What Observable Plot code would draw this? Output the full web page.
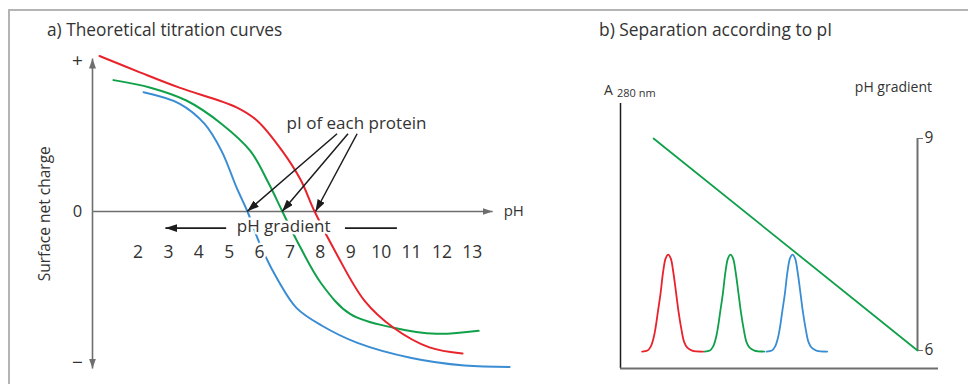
<!DOCTYPE html>
<html><head><meta charset="utf-8">
<script src="https://cdn.jsdelivr.net/npm/d3@7"></script>
<script src="https://cdn.jsdelivr.net/npm/@observablehq/plot@0.6"></script>
<style>
html,body{margin:0;padding:0;background:#fff;}
body{width:968px;height:384px;overflow:hidden;font-family:"Open Sans",sans-serif;color:#333;}
#fig{position:relative;width:968px;height:384px;overflow:hidden;}
#frame{position:absolute;left:8px;top:9px;width:980px;height:400px;border-left:2px solid #b4b4b4;border-top:2px solid #b4b4b4;}
.lbl{position:absolute;white-space:nowrap;line-height:1;}
.panel{position:absolute;top:0;}
#panelB2 g[aria-label^="y-axis"]{font-size:15.5px;}
#panelB2 g[aria-label="y-axis tick label"], #panelB2 g[aria-label="y-axis"] text{fill:#333;}
</style></head>
<body>
<div id="fig">
  <div id="frame"></div>
  <div id="panelA" class="panel" style="left:0"></div>
  <div id="panelB1" class="panel" style="left:560px"></div>
  <div id="panelB2" class="panel" style="left:560px"></div>
  <div class="lbl" style="left:47px;top:21px;font-size:17.3px">a) Theoretical titration curves</div>
  <div class="lbl" style="left:599px;top:21px;font-size:17.4px">b) Separation according to pI</div>
  <div class="lbl" style="left:-55px;top:206px;width:200px;text-align:center;font-size:15.5px;transform:rotate(-90deg);transform-origin:100px 7.75px">Surface net charge</div>
  <div class="lbl" style="left:604px;top:83px;font-size:14px">A</div>
  <div class="lbl" style="left:617px;top:87px;font-size:11px">280 nm</div>
  <div class="lbl" style="right:36px;top:80px;font-size:14px">pH gradient</div>
</div>
<script>
// ---------- Panel a: theoretical titration curves ----------
const phTicks = [2, 3, 4, 5, 6, 7, 8, 9, 10, 11, 12, 13];
const chargeTickValues = [1, 0, -1];
const chargeTickLabels = ["+", "0", "\u2212"];

const redPH     = [0.73, 2.08, 3.36, 5.24, 5.93, 6.75, 7.35, 7.81, 8.53, 9.45, 10.41, 11.59, 12.68];
const redCharge = [1.03, 0.92, 0.82, 0.69, 0.60, 0.40, 0.21, 0.00, -0.28, -0.59, -0.77, -0.90, -0.94];

const greenPH     = [1.19, 2.41, 3.59, 4.75, 5.70, 6.29, 6.75, 7.22, 8.04, 8.99, 10.41, 11.82, 13.21];
const greenCharge = [0.87, 0.82, 0.735, 0.58, 0.40, 0.19, 0.00, -0.19, -0.48, -0.68, -0.77, -0.81, -0.79];

const bluePH     = [2.18, 3.36, 4.19, 4.75, 5.24, 5.60, 6.06, 6.62, 7.22, 8.04, 9.22, 11.0, 12.74, 14.23];
const blueCharge = [0.79, 0.715, 0.58, 0.40, 0.16, 0.00, -0.24, -0.46, -0.64, -0.755, -0.87, -0.97, -1.02, -1.03];

// pI arrows (label side -> isoelectric point on the pH axis)
const pIArrowFromPH = [8.55, 8.91, 9.21];
const pIArrowFromCharge = [0.515, 0.515, 0.515];
const pIValues = [5.59, 6.74, 7.84];
const pILabel = "pI of each protein";
const pILabelPH = 9.19, pILabelCharge = 0.583;

// pH gradient annotation
const gradLabel = "pH gradient";
const gradLabelPH = 6.79, gradCharge = -0.101, gradLineCharge = -0.11;
const gradArrowFromPH = 4.90, gradArrowToPH = 2.90;
const gradLineFromPH = 8.81, gradLineToPH = 10.52;
const tickLabelCharge = -0.271;

// axes extents (data units)
const PH_MIN = 0.5, PH_MAX = 13.6, PH_AXIS_END = 13.67;
const CHARGE_MIN = -1, CHARGE_MAX = 1, CHARGE_AXIS_TOP = 1.013, CHARGE_AXIS_BOTTOM = -1.04;

// ---------- Panel b: separation according to pI ----------
const redPeakX   = [6.8, 8.5, 9.5, 10.4, 11.0, 11.8, 12.6, 13.4, 14.2, 15.0, 15.8, 16.6, 17.5, 18.3, 19.2, 20.0, 21.0, 22.5, 26.0];
const redPeakA   = [0, 0.01, 0.05, 0.14, 0.24, 0.42, 0.60, 0.82, 0.96, 1.00, 0.96, 0.82, 0.60, 0.40, 0.22, 0.10, 0.04, 0.01, 0];
const greenPeakX = [26.4, 28.1, 29.1, 30.0, 30.6, 31.4, 32.2, 33.0, 33.8, 34.6, 35.4, 36.2, 37.1, 37.9, 38.8, 39.6, 40.6, 42.1, 45.2];
const greenPeakA = [0, 0.01, 0.05, 0.14, 0.24, 0.42, 0.60, 0.82, 0.96, 1.00, 0.96, 0.82, 0.60, 0.40, 0.22, 0.10, 0.04, 0.01, 0];
const bluePeakX  = [45.9, 47.6, 48.6, 49.5, 50.1, 50.9, 51.7, 52.5, 53.3, 54.1, 54.9, 55.7, 56.6, 57.4, 58.3, 59.1, 60.1, 61.6, 65.0];
const bluePeakA  = [0, 0.01, 0.05, 0.14, 0.24, 0.42, 0.60, 0.82, 0.96, 1.00, 0.96, 0.82, 0.60, 0.40, 0.22, 0.10, 0.04, 0.01, 0];
const A_MIN = -0.175, A_MAX = 2.557, ELUTION_MAX = 100;

const gradientX = [10.4, 93.4];
const gradientPH = [9, 6];
const gradientTicks = [6, 9];
const B_X_END = 93.4, B_PH_MIN = 5.745, B_PH_MAX = 9.495;

// ---------- styles ----------
const RED = "#e8232b", GREEN = "#11a04a", BLUE = "#3a8dd3";
const TEXT = "#333333", AXIS = "#6e6e6e", INK = "#1c1c1c";
const FONT = "'Open Sans', sans-serif";
const SVGNS = "http://www.w3.org/2000/svg";

const rows = (xs, ys) => xs.map((x, i) => ({x, y: ys[i]}));

function head(len, wid) {
  return (color) => {
    const m = document.createElementNS(SVGNS, "marker");
    m.setAttribute("viewBox", `${-len} ${-wid / 2} ${len} ${wid}`);
    m.setAttribute("markerWidth", len);
    m.setAttribute("markerHeight", wid);
    m.setAttribute("markerUnits", "userSpaceOnUse");
    m.setAttribute("orient", "auto");
    m.setAttribute("refX", 0);
    m.setAttribute("refY", 0);
    const p = document.createElementNS(SVGNS, "path");
    p.setAttribute("d", `M${-len},${-wid / 2}L0,0L${-len},${wid / 2}Z`);
    p.setAttribute("fill", color);
    p.setAttribute("stroke", "none");
    m.appendChild(p);
    return m;
  };
}

function buildA(grayHead, blackHead) {
  const axisSegs = [
    {x1: PH_MIN, y1: 0, x2: PH_AXIS_END, y2: 0},
    {x1: PH_MIN, y1: 0, x2: PH_MIN, y2: CHARGE_AXIS_TOP},
    {x1: PH_MIN, y1: 0, x2: PH_MIN, y2: CHARGE_AXIS_BOTTOM}
  ];
  const chargeLabels = chargeTickValues.map((v, i) => ({v, t: chargeTickLabels[i]}));
  const pIArrows = pIValues.map((v, i) => ({x1: pIArrowFromPH[i], y1: pIArrowFromCharge[i], x2: v, y2: 0}));
  const halo = {stroke: "white", strokeWidth: 5, paintOrder: "stroke", fill: TEXT};
  return Plot.plot({
    width: 560, height: 384,
    marginLeft: 92, marginRight: 70, marginTop: 60, marginBottom: 22,
    style: {background: "transparent", fontFamily: FONT, fontSize: "16px", color: TEXT, overflow: "visible"},
    x: {domain: [PH_MIN, PH_MAX], axis: null},
    y: {domain: [CHARGE_MIN, CHARGE_MAX], axis: null},
    marks: [
      Plot.link(axisSegs, {x1: "x1", y1: "y1", x2: "x2", y2: "y2", stroke: AXIS, strokeWidth: 1.6, markerEnd: grayHead}),
      Plot.text(chargeLabels, {x: () => PH_MIN, y: "v", text: "t", dx: -15,
        fontSize: (d) => (d.v === 0 ? 16.5 : 19), fill: TEXT}),
      Plot.line(rows(bluePH, blueCharge), {x: "x", y: "y", stroke: BLUE, strokeWidth: 2, curve: "catmull-rom"}),
      Plot.line(rows(greenPH, greenCharge), {x: "x", y: "y", stroke: GREEN, strokeWidth: 2, curve: "catmull-rom"}),
      Plot.line(rows(redPH, redCharge), {x: "x", y: "y", stroke: RED, strokeWidth: 2, curve: "catmull-rom"}),
      Plot.text(phTicks, {x: (d) => d, y: () => tickLabelCharge, text: (d) => String(d), fontSize: 17.5, ...halo}),
      Plot.text([gradLabel], {x: () => gradLabelPH, y: () => gradCharge, text: (d) => d, fontSize: 17, ...halo}),
      Plot.link([{x1: gradArrowFromPH, x2: gradArrowToPH, y: gradLineCharge}], {x1: "x1", x2: "x2", y1: "y", y2: "y", stroke: INK, strokeWidth: 1.6, markerEnd: blackHead}),
      Plot.link([{x1: gradLineFromPH, x2: gradLineToPH, y: gradLineCharge}], {x1: "x1", x2: "x2", y1: "y", y2: "y", stroke: INK, strokeWidth: 1.6}),
      Plot.link(pIArrows, {x1: "x1", y1: "y1", x2: "x2", y2: "y2", stroke: INK, strokeWidth: 1.5, markerEnd: blackHead}),
      Plot.text([pILabel], {x: () => pILabelPH, y: () => pILabelCharge, text: (d) => d, fontSize: 17, fill: TEXT}),
      Plot.text(["pH"], {x: () => PH_AXIS_END, y: () => 0, text: (d) => d, dx: 11, textAnchor: "start", fontSize: 15, fill: TEXT})
    ]
  });
}

function buildB1() {
  return Plot.plot({
    width: 408, height: 384,
    marginLeft: 60, marginRight: 30, marginTop: 103, marginBottom: 16,
    style: {background: "transparent", fontFamily: FONT, overflow: "visible"},
    x: {domain: [0, ELUTION_MAX], axis: null},
    y: {domain: [A_MIN, A_MAX], axis: null},
    marks: [
      Plot.ruleX([0], {stroke: INK, strokeWidth: 1.5}),
      Plot.ruleY([A_MIN], {stroke: AXIS, strokeWidth: 2}),
      Plot.line(rows(redPeakX, redPeakA), {x: "x", y: "y", stroke: RED, strokeWidth: 1.8, curve: "catmull-rom"}),
      Plot.line(rows(greenPeakX, greenPeakA), {x: "x", y: "y", stroke: GREEN, strokeWidth: 1.8, curve: "catmull-rom"}),
      Plot.line(rows(bluePeakX, bluePeakA), {x: "x", y: "y", stroke: BLUE, strokeWidth: 1.8, curve: "catmull-rom"})
    ]
  });
}

function buildB2() {
  return Plot.plot({
    width: 408, height: 384,
    marginLeft: 60, marginRight: 51, marginTop: 103, marginBottom: 16,
    style: {background: "transparent", fontFamily: FONT, fontSize: "15.5px", color: AXIS, overflow: "visible"},
    x: {domain: [0, B_X_END], axis: null},
    y: {domain: [B_PH_MIN, B_PH_MAX], axis: "right", ticks: gradientTicks, tickFormat: (d) => String(d),
        tickSize: 5, tickPadding: 2, label: null},
    marks: [
      Plot.ruleX([B_X_END], {y1: gradientTicks[0], y2: gradientTicks[1], stroke: AXIS, strokeWidth: 2}),
      Plot.line(rows(gradientX, gradientPH), {x: "x", y: "y", stroke: GREEN, strokeWidth: 1.8})
    ]
  });
}

let a;
try { a = buildA(head(10, 7), head(12, 8)); }
catch (e) { a = buildA("arrow", "arrow"); }
document.getElementById("panelA").appendChild(a);
document.getElementById("panelB1").appendChild(buildB1());
document.getElementById("panelB2").appendChild(buildB2());
</script>
</body></html>
